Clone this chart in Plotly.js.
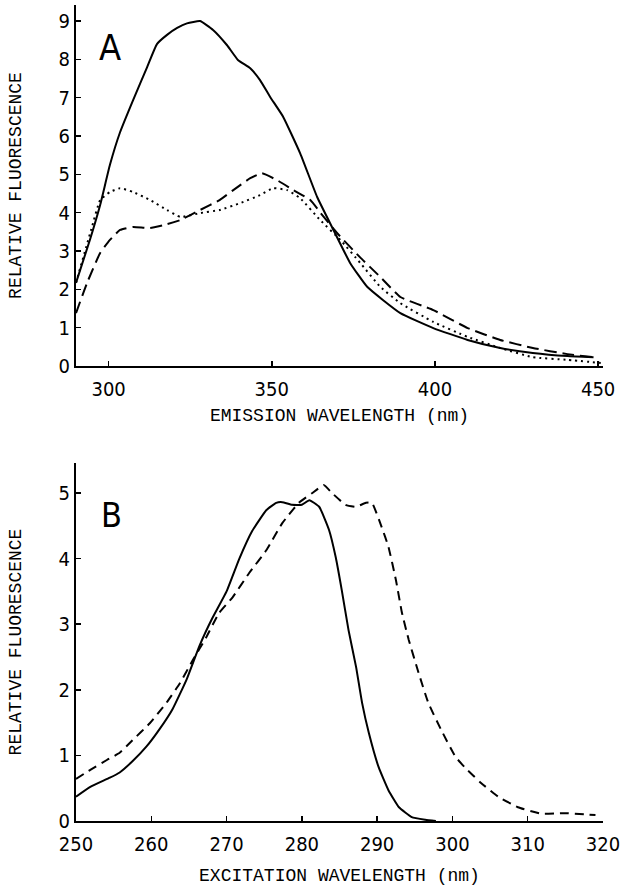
<!DOCTYPE html>
<html>
<head>
<meta charset="utf-8">
<script src="https://cdn.plot.ly/plotly-3.0.1.min.js"></script>
<style>html,body{margin:0;padding:0;background:#fff;}#chart{width:629px;height:891px;}</style>
</head>
<body>
<div id="chart"></div>
<script>
// Panel A: emission spectra
const emSolidX = [290, 294.3, 297.4, 300.4, 303.5, 307.5, 311.8, 314.8, 317.9, 321, 324, 328, 332, 336.3, 339.7, 343.4, 346.4, 349.5, 353.5, 358.7, 363.9, 368.9, 374, 379.3, 389.4, 399.5, 410, 420, 430, 440.6, 448.6];
const emSolidY = [2.17, 3.3, 4.2, 5.25, 6.1, 6.94, 7.8, 8.4, 8.64, 8.82, 8.94, 9.0, 8.77, 8.37, 7.98, 7.77, 7.46, 7.02, 6.5, 5.55, 4.41, 3.55, 2.69, 2.06, 1.38, 0.99, 0.68, 0.47, 0.34, 0.26, 0.23];
const emDashX = [290, 293.4, 297.4, 300.4, 303.5, 307.5, 312.7, 317.9, 322, 328, 334, 338.2, 343.4, 347, 351.6, 356.6, 361.8, 365, 370, 377, 383.3, 389.4, 399.5, 410, 420, 430, 440.6, 448.6];
const emDashY = [1.38, 2.17, 2.95, 3.29, 3.55, 3.63, 3.6, 3.7, 3.81, 4.07, 4.33, 4.59, 4.9, 5.03, 4.85, 4.59, 4.33, 3.99, 3.47, 2.84, 2.32, 1.8, 1.46, 0.99, 0.68, 0.47, 0.31, 0.23];
const emDotX = [290, 294.9, 297.4, 300.4, 303.5, 307.5, 312.7, 317.9, 322, 328, 334, 340.3, 346.4, 350.4, 354.7, 358.7, 364.8, 371, 377.1, 383.3, 389.4, 399.5, 410, 420, 430, 440.6, 450.8];
const emDotY = [2.17, 3.63, 4.33, 4.54, 4.64, 4.54, 4.33, 4.07, 3.89, 3.99, 4.07, 4.25, 4.46, 4.64, 4.59, 4.38, 3.81, 3.29, 2.69, 2.06, 1.64, 1.15, 0.76, 0.47, 0.23, 0.16, 0.08];

// Panel B: excitation spectra
const exSolidX = [250, 251.9, 254.5, 255.8, 257.5, 259.4, 261.1, 262.8, 264.7, 266.4, 268.1, 270, 271.7, 273.4, 275.3, 276.6, 277.4, 278.7, 280, 281, 282.3, 283.6, 284.5, 285.3, 286.2, 287.2, 288, 288.9, 290.2, 291.5, 292.9, 294.6, 296.4, 297.8];
const exSolidY = [0.37, 0.52, 0.66, 0.74, 0.91, 1.14, 1.4, 1.7, 2.16, 2.67, 3.09, 3.5, 4.0, 4.42, 4.74, 4.85, 4.86, 4.82, 4.82, 4.89, 4.79, 4.44, 4.02, 3.52, 2.91, 2.35, 1.8, 1.34, 0.82, 0.47, 0.21, 0.06, 0.02, 0.0];
const exDashX = [250, 251.9, 254.1, 255.8, 257.5, 259.8, 262, 263.8, 265.5, 267.3, 269, 270.8, 273, 275.3, 277.4, 279.6, 281.4, 282.9, 284, 285.8, 287.2, 288.5, 289.3, 290.6, 291.5, 292.5, 293.3, 294.2, 295.5, 296.8, 298.5, 300.4, 301.7, 303.8, 306.1, 308.7, 311.8, 314.9, 319];
const exDashY = [0.64, 0.78, 0.93, 1.04, 1.23, 1.49, 1.8, 2.1, 2.45, 2.8, 3.17, 3.41, 3.78, 4.13, 4.54, 4.85, 5.0, 5.12, 5.0, 4.82, 4.79, 4.85, 4.85, 4.48, 4.18, 3.67, 3.17, 2.76, 2.26, 1.8, 1.39, 0.98, 0.81, 0.58, 0.37, 0.21, 0.11, 0.12, 0.09];

const ticksAx = [300, 350, 400, 450];
const ticksAy = [0, 1, 2, 3, 4, 5, 6, 7, 8, 9];
const ticksBx = [250, 260, 270, 280, 290, 300, 310, 320];
const ticksBy = [0, 1, 2, 3, 4, 5];

const tickFont = {family: "Liberation Sans Narrow, DejaVu Sans Condensed, Roboto, sans-serif", size: 20, color: "#000"};
const titleFont = {family: "Liberation Mono, DejaVu Sans Mono, monospace", size: 18, color: "#000"};

function ln(dash, w) { return {color: "#000", width: w, dash: dash, shape: "spline", smoothing: 0.4}; }

const traces = [
  {x: emSolidX, y: emSolidY, mode: "lines", line: ln("solid", 2), xaxis: "x", yaxis: "y"},
  {x: emDashX, y: emDashY, mode: "lines", line: ln("12px,6px", 2), xaxis: "x", yaxis: "y"},
  {x: emDotX, y: emDotY, mode: "lines", line: ln("2px,4px", 2), xaxis: "x", yaxis: "y"},
  {x: exSolidX, y: exSolidY, mode: "lines", line: ln("solid", 2), xaxis: "x2", yaxis: "y2"},
  {x: exDashX, y: exDashY, mode: "lines", line: ln("9px,6px", 2), xaxis: "x2", yaxis: "y2"}
];

const W = 629, H = 891;
function axCommon() {
  return {showline: true, linecolor: "#000", linewidth: 2, ticks: "inside", ticklen: 5, tickwidth: 1.5,
          tickcolor: "#000", showgrid: false, zeroline: false, tickfont: tickFont, automargin: false, fixedrange: true};
}

const layout = {
  width: W, height: H,
  margin: {l: 0, r: 0, t: 0, b: 0},
  paper_bgcolor: "#fff", plot_bgcolor: "#fff",
  showlegend: false,
  xaxis: Object.assign(axCommon(), {domain: [76/W, 603/W], range: [290, 451.5], tickvals: ticksAx, anchor: "y",
    ticklabelstandoff: 4,
    title: {text: "EMISSION WAVELENGTH (nm)", font: titleFont, standoff: 8}}),
  yaxis: Object.assign(axCommon(), {domain: [1-366/H, 1-5/H], range: [0, 9.42], tickvals: ticksAy, anchor: "x",
    ticklabelstandoff: 0,
    title: {text: "RELATIVE FLUORESCENCE", font: titleFont, standoff: 32}}),
  xaxis2: Object.assign(axCommon(), {domain: [76/W, 603/W], range: [250, 320], tickvals: ticksBx, anchor: "y2",
    ticklabelstandoff: 4,
    title: {text: "EXCITATION WAVELENGTH (nm)", font: titleFont, standoff: 13}}),
  yaxis2: Object.assign(axCommon(), {domain: [1-821/H, 1-463/H], range: [0, 5.457], tickvals: ticksBy, anchor: "x2",
    ticklabelstandoff: 0,
    title: {text: "RELATIVE FLUORESCENCE", font: titleFont, standoff: 32}}),
  annotations: [
    {text: "A", xref: "paper", yref: "paper", x: 110/W, y: 1-48/H, xanchor: "center", yanchor: "middle", showarrow: false,
     font: {family: "Liberation Sans Narrow, DejaVu Sans Condensed, Roboto, sans-serif", size: 36, color: "#000"}},
    {text: "B", xref: "paper", yref: "paper", x: 112/W, y: 1-515/H, xanchor: "center", yanchor: "middle", showarrow: false,
     font: {family: "Liberation Sans Narrow, DejaVu Sans Condensed, Roboto, sans-serif", size: 34, color: "#000"}}
  ]
};

Plotly.newPlot("chart", traces, layout, {displayModeBar: false, staticPlot: true});
</script>
</body>
</html>
